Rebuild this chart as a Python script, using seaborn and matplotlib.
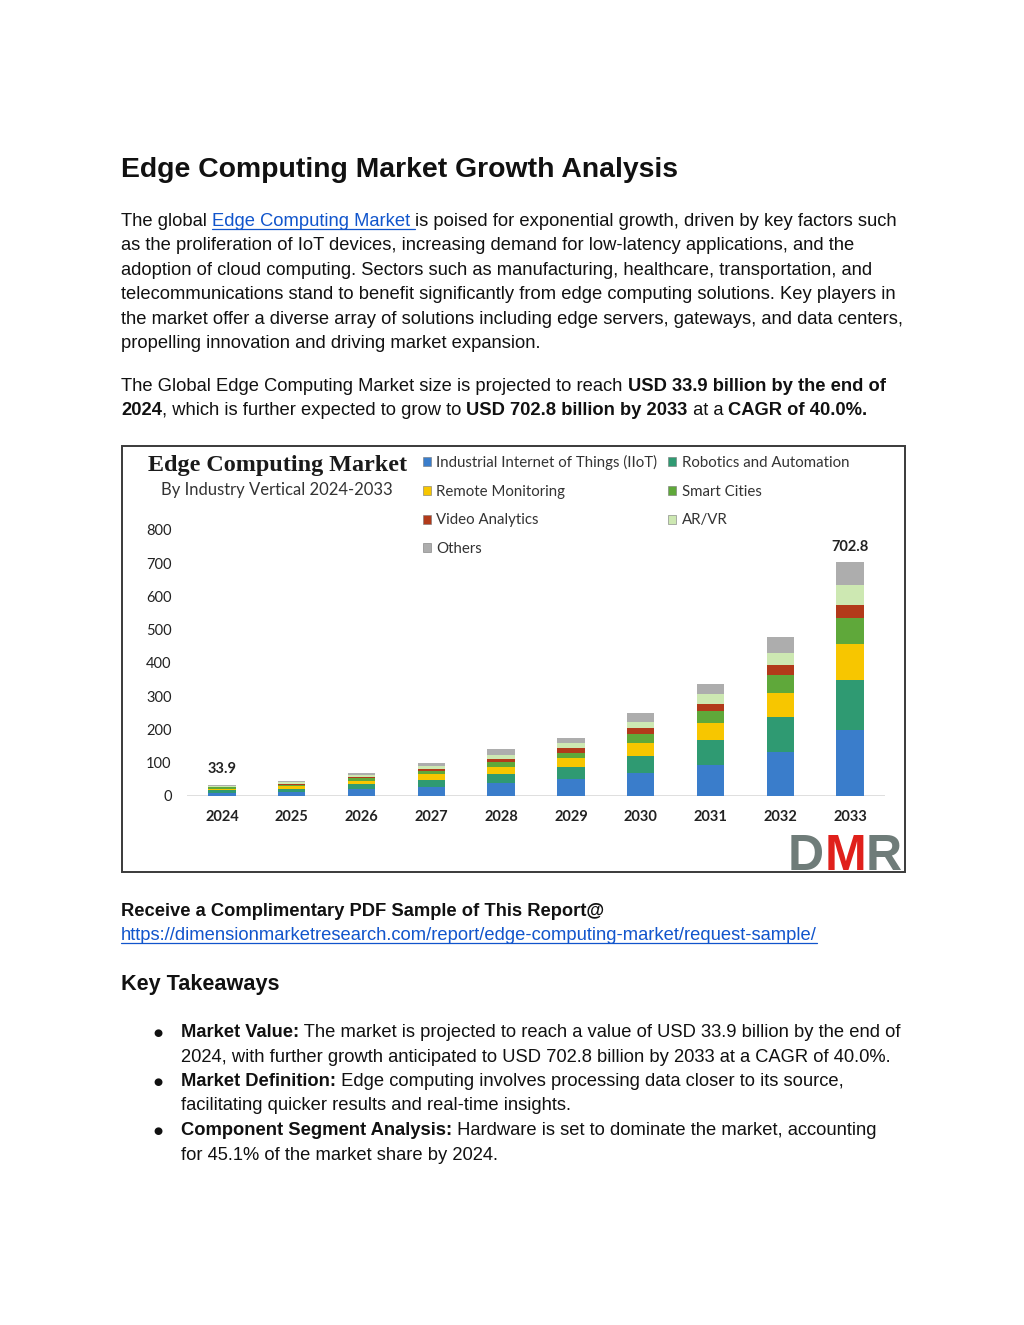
import numpy as np
import pandas as pd
import matplotlib
matplotlib.use("Agg")
import matplotlib.pyplot as plt
import seaborn as sns
from matplotlib.patches import Rectangle, Patch
from matplotlib.lines import Line2D

# ---------------- data ----------------
years = ["2024", "2025", "2026", "2027", "2028", "2029", "2030", "2031", "2032", "2033"]
iiot      = [9.6, 13.0, 20.0, 28.0, 38.0, 50.0, 70.0, 93.0, 133.0, 199.0]
robotics  = [7.2, 9.5, 15.0, 21.0, 27.0, 36.0, 50.0, 75.0, 105.0, 150.0]
remote    = [5.2, 7.0, 11.0, 16.0, 22.0, 27.0, 40.0, 52.0, 73.0, 107.0]
smart     = [3.6, 5.0, 7.5, 11.0, 15.0, 17.0, 26.5, 36.0, 53.0, 78.0]
video     = [2.1, 3.0, 4.5, 6.0, 9.0, 13.0, 17.0, 21.0, 30.0, 41.0]
arvr      = [2.9, 3.7, 5.5, 8.0, 12.0, 15.0, 20.0, 29.0, 37.0, 60.0]
others    = [3.3, 4.0, 6.5, 10.0, 17.0, 15.5, 25.5, 31.0, 46.0, 67.8]
segments = ["Industrial Internet of Things (IIoT)", "Robotics and Automation",
            "Remote Monitoring", "Smart Cities", "Video Analytics", "AR/VR", "Others"]
seg_values = [iiot, robotics, remote, smart, video, arvr, others]
seg_colors = ["#3A7DCB", "#2F9A72", "#F7C600", "#5FA83A", "#B23A1A", "#CDE8B2", "#ADADAD"]
labeled_years = ["2024", "2033"]
yticks = [0, 100, 200, 300, 400, 500, 600, 700, 800]

W, H = 1024, 1325
BODY = ["Liberation Sans", "DejaVu Sans"]
CHART = ["Lato", "DejaVu Sans"]

sns.set_theme(style="white")
plt.rcParams["font.family"] = BODY

fig = plt.figure(figsize=(W / 100, H / 100), dpi=100)
fig.patch.set_facecolor("white")
renderer = fig.canvas.get_renderer()


def fx(x):
    return x / W


def fy(y):
    return 1 - y / H


def runs(x, y, parts, size, family=BODY):
    cx = x
    for part in parts:
        txt, weight, color, underline = (list(part) + [False])[:4]
        t = fig.text(fx(cx), fy(y), txt, fontsize=size, fontweight=weight, color=color,
                     family=family, va="baseline", ha="left")
        bb = t.get_window_extent(renderer)
        if underline:
            fig.add_artist(Line2D([fx(cx), fx(cx + bb.width)], [fy(y + 2.5)] * 2,
                                  color=color, lw=0.9, transform=fig.transFigure))
        cx += bb.width
    return cx


TXT = "#111111"
LINK = "#1155CC"
BS = 13.2

# ---------------- top text ----------------
runs(121, 177, [("Edge Computing Market Growth Analysis", "bold", TXT)], 20.4)

p1 = [
    [("The global ", "normal", TXT), ("Edge Computing Market ", "normal", LINK, True),
     ("is poised for exponential growth, driven by key factors such", "normal", TXT)],
    [("as the proliferation of IoT devices, increasing demand for low-latency applications, and the", "normal", TXT)],
    [("adoption of cloud computing. Sectors such as manufacturing, healthcare, transportation, and", "normal", TXT)],
    [("telecommunications stand to benefit significantly from edge computing solutions. Key players in", "normal", TXT)],
    [("the market offer a diverse array of solutions including edge servers, gateways, and data centers,", "normal", TXT)],
    [("propelling innovation and driving market expansion.", "normal", TXT)],
]
for i, line in enumerate(p1):
    runs(121, 226 + i * 24.4, line, BS)

p2 = [
    [("The Global Edge Computing Market size is projected to reach ", "normal", TXT),
     ("USD 33.9 billion by the end of", "bold", TXT)],
    [("2024", "bold", TXT), (", which is further expected to grow to ", "normal", TXT),
     ("USD 702.8 billion by 2033", "bold", TXT), (" at a ", "normal", TXT),
     ("CAGR of 40.0%.", "bold", TXT)],
]
for i, line in enumerate(p2):
    runs(121, 391 + i * 24.4, line, BS)

# ---------------- chart box ----------------
fig.add_artist(Rectangle((fx(122), fy(872)), 783 / W, 426 / H, fill=False,
                         edgecolor="#3a3a3a", lw=1.4, transform=fig.transFigure))

ax = fig.add_axes([fx(187), fy(796), 698 / W, 266 / H])
ax.set_facecolor("none")

cum = np.zeros(len(years))
cums = []
for vals in seg_values:
    cum = cum + np.array(vals)
    cums.append(cum.copy())
for k in range(len(segments) - 1, -1, -1):
    d = pd.DataFrame({"year": years, "value": cums[k]})
    sns.barplot(data=d, x="year", y="value", order=years, color=seg_colors[k],
                width=0.39, saturation=1, ax=ax, edgecolor="none", linewidth=0, zorder=2 + (7 - k))

totals = cums[-1]
for i, yr in enumerate(years):
    if yr in labeled_years:
        ax.annotate(f"{totals[i]:.1f}", (i, totals[i]), xytext=(0, 6), textcoords="offset points",
                    ha="center", va="bottom", fontsize=10.5, fontweight="bold",
                    family=CHART, color="#222222", annotation_clip=False)

ax.set_ylim(0, 800)
ax.set_xlim(-0.5, len(years) - 0.5)
ax.set_yticks(yticks)
ax.set_yticklabels([str(v) for v in yticks])
ax.set_xlabel("")
ax.set_ylabel("")
for s in ax.spines.values():
    s.set_visible(False)
ax.axhline(0, color="#D9D9D9", lw=1.2, zorder=1)
ax.tick_params(axis="y", length=0, pad=11, labelsize=10.5, labelcolor="#222222")
ax.tick_params(axis="x", length=0, pad=10, labelsize=10.5, labelcolor="#222222")
for lab in ax.get_yticklabels():
    lab.set_family(CHART)
for lab in ax.get_xticklabels():
    lab.set_family(CHART)
    lab.set_fontweight("bold")

# chart titles
fig.text(fx(148), fy(471), "Edge Computing Market", fontsize=17.4, fontweight="bold",
         family=["Liberation Serif", "DejaVu Serif"], color="#1a1a1a", va="baseline")
fig.text(fx(161), fy(495), "By Industry Vertical 2024-2033", fontsize=12,
         family=CHART, color="#333333", va="baseline")

# legend
order = [0, 2, 4, 6, 1, 3, 5]
handles = [Patch(facecolor=seg_colors[k], edgecolor="#777777", lw=0.4) for k in order]
labels = [segments[k] for k in order]
ax.legend(handles, labels, ncol=2, loc="upper left",
          bbox_to_anchor=(fx(423), fy(455)), bbox_transform=fig.transFigure,
          frameon=False, prop={"family": CHART, "size": 10.8},
          handlelength=0.55, handleheight=0.55, handletextpad=0.35,
          labelspacing=0.98, columnspacing=0.7, borderpad=0, borderaxespad=0,
          labelcolor="#333333")

# DMR logo
runs(788, 870, [("D", "bold", "#6F7C79"), ("M", "bold", "#E0201B"), ("R", "bold", "#6F7C79")],
     36, family=["Liberation Sans", "DejaVu Sans"])

# ---------------- bottom text ----------------
runs(121, 916, [("Receive a Complimentary PDF Sample of This Report@", "bold", TXT)], BS)
runs(121, 940, [("https://dimensionmarketresearch.com/report/edge-computing-market/request-sample/",
                 "normal", LINK, True)], BS)
runs(121, 990, [("Key Takeaways", "bold", TXT)], 15.6)

bullets = [
    [[("Market Value:", "bold", TXT),
      (" The market is projected to reach a value of USD 33.9 billion by the end of", "normal", TXT)],
     [("2024, with further growth anticipated to USD 702.8 billion by 2033 at a CAGR of 40.0%.", "normal", TXT)]],
    [[("Market Definition:", "bold", TXT),
      (" Edge computing involves processing data closer to its source,", "normal", TXT)],
     [("facilitating quicker results and real-time insights.", "normal", TXT)]],
    [[("Component Segment Analysis:", "bold", TXT),
      (" Hardware is set to dominate the market, accounting", "normal", TXT)],
     [("for 45.1% of the market share by 2024.", "normal", TXT)]],
]
y0 = 1037
for b in bullets:
    fig.text(fx(158), fy(y0 - 1), "\u25CF", fontsize=7.5, family=["DejaVu Sans"], color=TXT,
             ha="center", va="baseline")
    for line in b:
        runs(181, y0, line, BS)
        y0 += 24.5

fig.savefig("out.png", dpi=100, facecolor="white")
